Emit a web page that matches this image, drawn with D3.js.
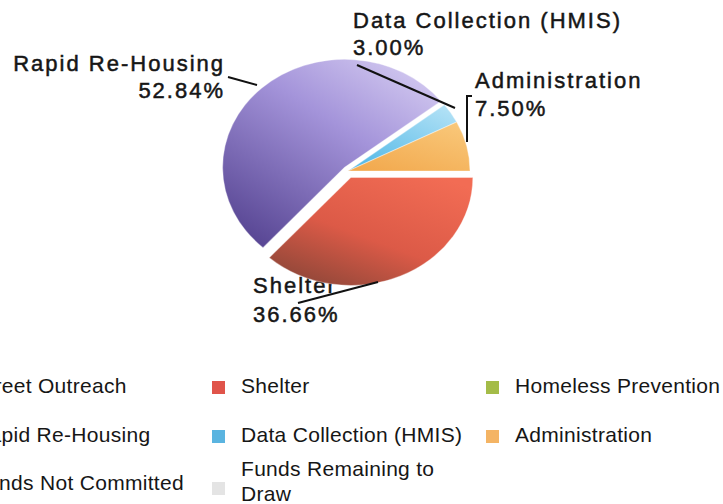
<!DOCTYPE html>
<html>
<head>
<meta charset="utf-8">
<script src="https://cdn.jsdelivr.net/npm/d3@7"></script>
<style>
  html, body { margin: 0; padding: 0; background: #ffffff; }
  svg { display: block; }
  text { font-family: Arial, "Liberation Sans", sans-serif; fill: #161616; }
</style>
</head>
<body>
<svg id="chart" width="723" height="504"></svg>
<script>
// ---------------- DATA ----------------
const sliceLabels = ["Shelter", "Rapid Re-Housing", "Data Collection (HMIS)", "Administration"];
const sliceValues = [36.66, 52.84, 3.00, 7.50];

const legendLabels = [
  "Street Outreach", "Shelter", "Homeless Prevention",
  "Rapid Re-Housing", "Data Collection (HMIS)", "Administration",
  "Funds Not Committed", "Funds Remaining to Draw"
];

// ---------------- STYLE / LAYOUT ----------------
const sliceGradients = {
  "Shelter": [["0%", "#f26c54"], ["55%", "#dc5a47"], ["100%", "#8c4638"]],
  "Rapid Re-Housing": [["0%", "#d6cdf2"], ["40%", "#a494da"], ["100%", "#564492"]],
  "Data Collection (HMIS)": [["0%", "#b4e2f6"], ["100%", "#52b8e6"]],
  "Administration": [["0%", "#f9c87a"], ["100%", "#f2a94e"]]
};
const legendColors = {
  "Street Outreach": "#4f6fb0",
  "Shelter": "#e0544a",
  "Homeless Prevention": "#a4bc48",
  "Rapid Re-Housing": "#8070c0",
  "Data Collection (HMIS)": "#5ab4e0",
  "Administration": "#f4b464",
  "Funds Not Committed": "#888888",
  "Funds Remaining to Draw": "#e4e4e4"
};
const explode = { "Shelter": 7, "Rapid Re-Housing": 5, "Data Collection (HMIS)": 0, "Administration": 0 };

const cx = 348, cy = 171, rx = 122, ry = 108;

const svg = d3.select("#chart");
const defs = svg.append("defs");

// gradients
sliceLabels.forEach((name, i) => {
  const g = defs.append("linearGradient")
    .attr("id", "grad" + i)
    .attr("x1", name === "Shelter" ? 0.85 : 0.9).attr("y1", 0.0)
    .attr("x2", 0.15).attr("y2", 1.0);
  sliceGradients[name].forEach(s => g.append("stop").attr("offset", s[0]).attr("stop-color", s[1]));
});

// ---------------- DATA LABELS (drawn before pie) ----------------
const pct = v => d3.format(".2f")(v) + "%";
const labelStyle = sel => sel.style("font-size", "22px").style("letter-spacing", "2px")
  .style("stroke", "#161616").style("stroke-width", "0.5px");

const labelPos = {
  "Rapid Re-Housing": { x: 225, y1: 71, y2: 98, anchor: "end" },
  "Data Collection (HMIS)": { x: 353, y1: 28, y2: 55, anchor: "start" },
  "Administration": { x: 475, y1: 88, y2: 116, anchor: "start" },
  "Shelter": { x: 253, y1: 293, y2: 322, anchor: "start" }
};

const labelG = svg.append("g");
sliceLabels.forEach((name, i) => {
  const p = labelPos[name];
  labelG.append("text").attr("x", p.x).attr("y", p.y1).attr("text-anchor", p.anchor)
    .text(name).call(labelStyle);
  labelG.append("text").attr("x", p.x).attr("y", p.y2).attr("text-anchor", p.anchor)
    .text(pct(sliceValues[i])).call(labelStyle);
});

// ---------------- PIE ----------------
const pie = d3.pie().sort(null).value(d => d)
  .startAngle(Math.PI / 2).endAngle(Math.PI / 2 + 2 * Math.PI);
const arcs = pie(sliceValues);
const arc = d3.arc().innerRadius(0).outerRadius(ry);

const pieG = svg.append("g");
arcs.forEach((a, i) => {
  const name = sliceLabels[i];
  const mid = (a.startAngle + a.endAngle) / 2;
  const off = explode[name];
  const ox = Math.sin(mid) * off, oy = -Math.cos(mid) * off;
  pieG.append("path")
    .attr("d", arc(a))
    .attr("transform", `translate(${cx + ox},${cy + oy}) scale(${rx / ry},1)`)
    .attr("fill", `url(#grad${i})`)
    .attr("stroke", "rgba(255,255,255,0.35)")
    .attr("stroke-width", 1);
});

// ---------------- LEADER LINES ----------------
const leaders = [
  [[228, 77], [257, 85]],
  [[357, 65], [455, 108]],
  [[298, 303], [378, 282]]
];
const lineGen = d3.line();
leaders.forEach(l => svg.append("path").attr("d", lineGen(l))
  .attr("stroke", "#111").attr("stroke-width", 2).attr("fill", "none"));
// bracket for Administration
svg.append("path").attr("d", lineGen([[472, 96], [467, 96], [467, 142]]))
  .attr("stroke", "#111").attr("stroke-width", 2).attr("fill", "none");

// ---------------- LEGEND ----------------
const colX = [-26, 241, 515];
const rowY = [393, 442, 490];
const legendG = svg.append("g");
legendLabels.forEach((name, i) => {
  const col = i % 3, row = Math.floor(i / 3);
  const tx = colX[col], ty = rowY[row];
  const g = legendG.append("g");
  let my = ty - 12;
  if (name === "Funds Remaining to Draw") {
    g.append("text").attr("x", tx).attr("y", 476).style("font-size", "21px")
      .style("letter-spacing", "0.3px").text("Funds Remaining to");
    g.append("text").attr("x", tx).attr("y", 501).style("font-size", "21px")
      .style("letter-spacing", "0.3px").text("Draw");
    my = 482;
  } else {
    g.append("text").attr("x", tx).attr("y", ty).style("font-size", "21px")
      .style("letter-spacing", "0.3px").text(name);
  }
  g.append("rect").attr("x", tx - 29).attr("y", my).attr("width", 13).attr("height", 13)
    .attr("fill", legendColors[name]);
});
</script>
</body>
</html>
